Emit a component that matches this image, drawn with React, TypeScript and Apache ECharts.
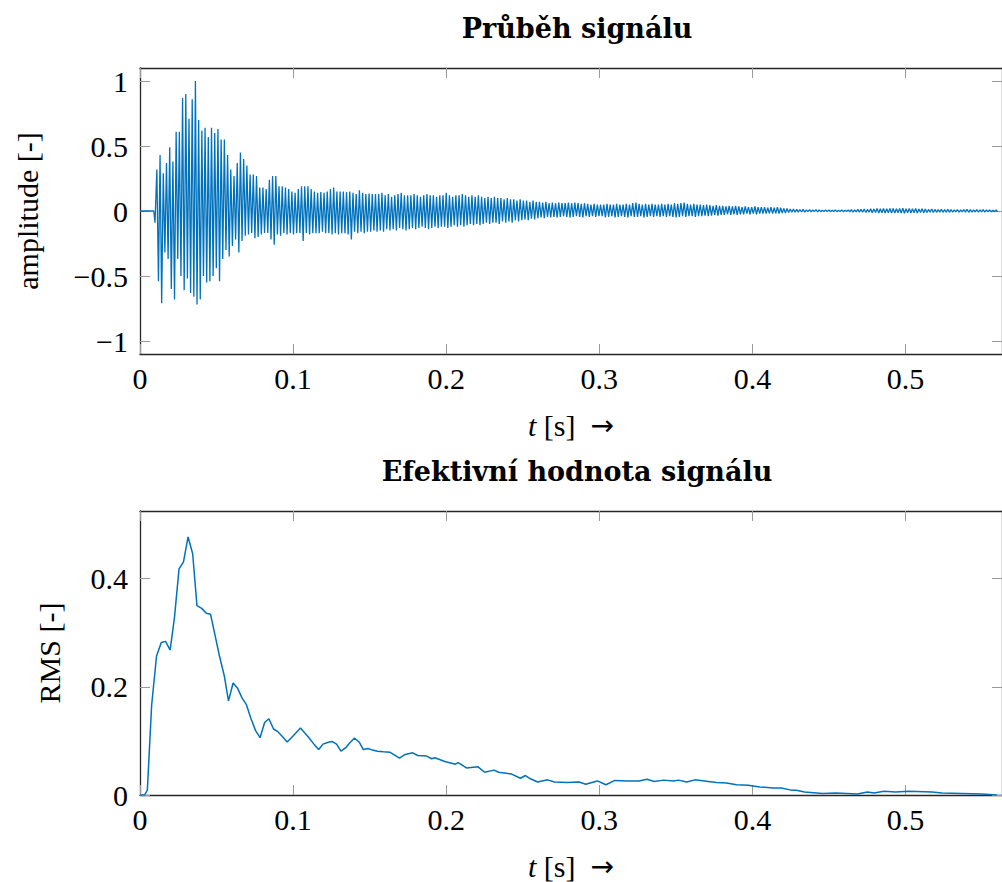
import React, { useEffect, useRef } from "react";
import * as echarts from "echarts";

// ---------- data ----------
const signalTitle = "Průběh signálu";
const rmsTitle = "Efektivní hodnota signálu";

// quiet lead-in before the onset
const leadTimes = [0, 0.009, 0.0098];
const leadValues = [0, 0, -0.09];

// oscillation: one upper and one lower peak per period
const SIGNAL_T0 = 0.011; // s, first upper peak
const SIGNAL_PERIOD = 0.0021; // s

const peakHigh = [
  0.32, 0.43, 0.29, 0.37, 0.49, 0.38, 0.61, 0.61, 0.87, 0.9,
  0.71, 0.86, 1.0, 0.7, 0.62, 0.64, 0.57, 0.64, 0.6, 0.63,
  0.55, 0.55, 0.43, 0.32, 0.27, 0.37, 0.45, 0.4, 0.35, 0.28,
  0.28, 0.27, 0.18, 0.18, 0.17, 0.24, 0.27, 0.27, 0.19, 0.19,
  0.18, 0.17, 0.15, 0.14, 0.17, 0.19, 0.19, 0.19, 0.17, 0.15,
  0.14, 0.145, 0.14, 0.15, 0.17, 0.18, 0.15, 0.15, 0.15, 0.145,
  0.15, 0.14, 0.13, 0.16, 0.14, 0.13, 0.135, 0.13, 0.13,
  0.13, 0.14, 0.12, 0.13, 0.11, 0.12, 0.13, 0.14, 0.12, 0.12,
  0.12, 0.13, 0.12, 0.11, 0.12, 0.13, 0.12, 0.12, 0.11, 0.12,
  0.12, 0.14, 0.12, 0.11, 0.12, 0.12, 0.13, 0.12, 0.11, 0.12,
  0.11, 0.12, 0.11, 0.1, 0.11, 0.1, 0.11, 0.1, 0.1, 0.09,
  0.1, 0.09, 0.09, 0.08, 0.09, 0.08, 0.08, 0.07, 0.08, 0.07,
  0.07, 0.065, 0.07, 0.06, 0.065, 0.06, 0.065, 0.06, 0.06, 0.065,
  0.06, 0.065, 0.06, 0.055, 0.06, 0.055, 0.05, 0.055, 0.05, 0.05,
  0.05, 0.055, 0.05, 0.05, 0.055, 0.05, 0.05, 0.055, 0.05, 0.06,
  0.065, 0.055, 0.05, 0.055, 0.05, 0.055, 0.05, 0.05, 0.055, 0.05,
  0.055, 0.05, 0.06, 0.055, 0.06, 0.065, 0.055, 0.05, 0.055, 0.05,
  0.05, 0.045, 0.05, 0.045, 0.04, 0.045, 0.04, 0.04, 0.035, 0.04,
  0.035, 0.04, 0.035, 0.03, 0.035, 0.03, 0.03, 0.035, 0.03, 0.03,
  0.03, 0.025, 0.03, 0.025, 0.03, 0.025, 0.02, 0.02, 0.015, 0.015,
  0.012, 0.01, 0.012, 0.008, 0.01, 0.008, 0.01, 0.008, 0.006, 0.008,
  0.008, 0.006, 0.008, 0.006, 0.008, 0.006, 0.008, 0.01, 0.008, 0.012,
  0.012, 0.015, 0.012, 0.018, 0.015, 0.02, 0.018, 0.02, 0.018, 0.02,
  0.02, 0.018, 0.02, 0.022, 0.018, 0.02, 0.018, 0.02, 0.015, 0.018,
  0.015, 0.012, 0.015, 0.012, 0.01, 0.012, 0.01, 0.012, 0.01, 0.008,
  0.01, 0.008, 0.01, 0.012, 0.01, 0.008, 0.01, 0.008, 0.01, 0.008,
  0.008, 0.006, 0.008,
];

const peakLow = [
  -0.54, -0.71, -0.32, -0.37, -0.6, -0.68, -0.37, -0.5, -0.61, -0.52,
  -0.63, -0.66, -0.72, -0.68, -0.5, -0.55, -0.54, -0.5, -0.44, -0.54,
  -0.37, -0.3, -0.35, -0.27, -0.22, -0.32, -0.23, -0.19, -0.18, -0.17,
  -0.21, -0.2, -0.18, -0.17, -0.17, -0.22, -0.26, -0.18, -0.19, -0.17,
  -0.18, -0.17, -0.18, -0.17, -0.17, -0.23, -0.17, -0.18, -0.17, -0.17,
  -0.17, -0.16, -0.17, -0.17, -0.18, -0.17, -0.18, -0.17, -0.17, -0.18,
  -0.22, -0.16, -0.17, -0.16, -0.17, -0.16, -0.16, -0.15, -0.16,
  -0.15, -0.16, -0.14, -0.15, -0.14, -0.15, -0.13, -0.14, -0.15, -0.14,
  -0.13, -0.14, -0.13, -0.12, -0.13, -0.14, -0.13, -0.12, -0.13, -0.12,
  -0.12, -0.13, -0.12, -0.11, -0.12, -0.11, -0.12, -0.11, -0.1, -0.11,
  -0.1, -0.11, -0.1, -0.09, -0.1, -0.09, -0.09, -0.1, -0.08, -0.09,
  -0.08, -0.09, -0.07, -0.08, -0.07, -0.065, -0.07, -0.06, -0.065, -0.055,
  -0.05, -0.055, -0.045, -0.05, -0.045, -0.05, -0.045, -0.04, -0.045, -0.05,
  -0.045, -0.04, -0.045, -0.05, -0.04, -0.045, -0.04, -0.045, -0.04, -0.04,
  -0.05, -0.045, -0.04, -0.05, -0.045, -0.04, -0.045, -0.05, -0.04, -0.045,
  -0.045, -0.04, -0.05, -0.045, -0.04, -0.045, -0.04, -0.045, -0.04, -0.045,
  -0.04, -0.045, -0.05, -0.045, -0.04, -0.045, -0.04, -0.04, -0.045, -0.04,
  -0.04, -0.035, -0.04, -0.035, -0.03, -0.035, -0.03, -0.03, -0.025, -0.03,
  -0.025, -0.03, -0.025, -0.025, -0.02, -0.025, -0.02, -0.025, -0.02, -0.02,
  -0.02, -0.018, -0.02, -0.018, -0.02, -0.015, -0.015, -0.012, -0.01, -0.01,
  -0.008, -0.006, -0.008, -0.005, -0.006, -0.005, -0.006, -0.005, -0.004, -0.005,
  -0.005, -0.004, -0.005, -0.004, -0.005, -0.004, -0.006, -0.008, -0.006, -0.008,
  -0.01, -0.012, -0.01, -0.014, -0.012, -0.015, -0.014, -0.016, -0.014, -0.016,
  -0.015, -0.014, -0.016, -0.017, -0.014, -0.015, -0.014, -0.015, -0.012, -0.014,
  -0.012, -0.01, -0.012, -0.01, -0.008, -0.01, -0.008, -0.01, -0.008, -0.006,
  -0.008, -0.006, -0.008, -0.01, -0.008, -0.006, -0.008, -0.006, -0.008, -0.006,
  -0.006, -0.005, -0.006,
];

// RMS curve
const rmsTimes = [
  0, 0.003, 0.0048, 0.0076, 0.0108, 0.0139, 0.0167, 0.0197, 0.0225, 0.0255,
  0.0284, 0.0314, 0.0344, 0.0372, 0.0403, 0.0433, 0.0461, 0.0491, 0.0519, 0.055,
  0.0578, 0.0608, 0.0636, 0.0667, 0.0695, 0.0725, 0.0755, 0.0784, 0.0814, 0.0842,
  0.0872, 0.09, 0.093, 0.0961, 0.0989, 0.1019, 0.1048, 0.1078, 0.1106, 0.1136,
  0.1167, 0.1195, 0.1225, 0.1253, 0.1284, 0.1312, 0.1342, 0.1372, 0.14, 0.1431,
  0.1459, 0.1489, 0.1519, 0.155, 0.159, 0.1634, 0.1695, 0.1732, 0.1781, 0.1814,
  0.1872, 0.1905, 0.1926, 0.1991, 0.206, 0.2078, 0.2132, 0.2208, 0.2251, 0.2312,
  0.2342, 0.2424, 0.2485, 0.2517, 0.2543, 0.2597, 0.2662, 0.2706, 0.2792, 0.2868,
  0.2911, 0.2987, 0.3043, 0.3102, 0.3182, 0.3258, 0.3312, 0.3359, 0.342, 0.3485,
  0.3517, 0.357, 0.3625, 0.3712, 0.3766, 0.3831, 0.3896, 0.3972, 0.4048, 0.4134,
  0.4188, 0.4253, 0.4286, 0.434, 0.4459, 0.4545, 0.4686, 0.4751, 0.4794, 0.4859,
  0.4935, 0.5022, 0.5173, 0.5238, 0.5368, 0.5498, 0.5597,
];
const rmsValues = [
  0, 0, 0.009, 0.166, 0.257, 0.282, 0.284, 0.268, 0.328, 0.418,
  0.431, 0.477, 0.446, 0.35, 0.345, 0.336, 0.334, 0.294, 0.257, 0.221,
  0.174, 0.207, 0.198, 0.179, 0.167, 0.141, 0.119, 0.106, 0.134, 0.141,
  0.122, 0.117, 0.108, 0.098, 0.106, 0.115, 0.124, 0.114, 0.105, 0.094,
  0.084, 0.094, 0.097, 0.099, 0.094, 0.081, 0.087, 0.097, 0.105, 0.098,
  0.084, 0.086, 0.083, 0.081, 0.08, 0.079, 0.068, 0.075, 0.078, 0.073,
  0.072, 0.067, 0.069, 0.062, 0.057, 0.06, 0.05, 0.052, 0.042, 0.046,
  0.042, 0.039, 0.031, 0.036, 0.031, 0.024, 0.028, 0.024, 0.023, 0.024,
  0.02, 0.026, 0.019, 0.027, 0.026, 0.026, 0.029, 0.025, 0.0275, 0.026,
  0.0275, 0.024, 0.028, 0.025, 0.023, 0.022, 0.019, 0.018, 0.015, 0.013,
  0.013, 0.009, 0.0086, 0.0055, 0.003, 0.0037, 0.0018, 0.0055, 0.0037, 0.0068,
  0.0055, 0.0068, 0.0055, 0.0037, 0.003, 0.0018, 0,
];

const xTicks = [0, 0.1, 0.2, 0.3, 0.4, 0.5];
const signalYTicks = [-1, -0.5, 0, 0.5, 1];
const rmsYTicks = [0, 0.2, 0.4];

// ---------- styling ----------
const LINE_COLOR = "#0072BD";
const SERIF = "Liberation Serif";
const TITLE_FONT = "DejaVu Serif";
const FS = 30;

const fmt = (v: number) => {
  const s = String(+v.toFixed(3));
  return v < 0 ? "\u2212" + s.slice(1) : s;
};

function buildSignal(): [number, number][] {
  const out: [number, number][] = [];
  leadTimes.forEach((t, k) => out.push([t, leadValues[k]]));
  for (let i = 0; i < peakHigh.length; i++) {
    out.push([SIGNAL_T0 + i * SIGNAL_PERIOD, peakHigh[i]]);
    out.push([SIGNAL_T0 + (i + 0.5) * SIGNAL_PERIOD, peakLow[i]]);
  }
  return out;
}

export default function App() {
  const ref = useRef<HTMLDivElement>(null);
  useEffect(() => {
    if (!ref.current) return;
    const chart = echarts.init(ref.current, undefined, { renderer: "svg" });
    const PLOT_W = 867;
    const X_MAX = PLOT_W / 1540;
    const axisLine = { show: true, onZero: false, lineStyle: { color: "#262626", width: 1.3 } };
    const tick = (vals?: number[]) => ({
      show: true,
      inside: true,
      length: 10,
      lineStyle: { color: "#9a9a9a", width: 1 },
      ...(vals ? { customValues: vals } : {}),
    });
    const xBottom = (grid: number) => ({
      type: "value",
      gridIndex: grid,
      position: "bottom",
      min: 0,
      max: X_MAX,
      interval: 0.1,
      axisLine,
      axisTick: tick(xTicks),
      splitLine: { show: false },
      axisLabel: {
        customValues: xTicks,
        formatter: fmt,
        fontFamily: SERIF,
        fontSize: FS,
        color: "#000",
        margin: 9,
      },
      name: "{it|t} [s]  {ar|\u2192}",
      nameLocation: "middle",
      nameGap: 56,
      nameTextStyle: {
        fontFamily: SERIF,
        fontSize: FS,
        color: "#000",
        rich: {
          it: { fontStyle: "italic", fontFamily: SERIF, fontSize: FS, color: "#000" },
          ar: { fontFamily: "DejaVu Sans", fontSize: 28, color: "#000" },
        },
      },
    });
    const xTop = (grid: number) => ({
      type: "value",
      gridIndex: grid,
      position: "top",
      min: 0,
      max: X_MAX,
      interval: 0.1,
      axisLine,
      axisTick: tick(xTicks),
      axisLabel: { show: false },
      splitLine: { show: false },
    });
    const yLeft = (grid: number, min: number, max: number, vals: number[], name: string, gap: number) => ({
      type: "value",
      gridIndex: grid,
      position: "left",
      min,
      max,
      axisLine,
      axisTick: tick(vals),
      splitLine: { show: false },
      axisLabel: {
        customValues: vals,
        formatter: fmt,
        fontFamily: SERIF,
        fontSize: FS,
        color: "#000",
        margin: 12,
      },
      name,
      nameLocation: "middle",
      nameGap: gap,
      nameRotate: 90,
      nameTextStyle: { fontFamily: SERIF, fontSize: FS, color: "#000" },
    });
    const yRight = (grid: number, min: number, max: number, vals: number[]) => ({
      type: "value",
      gridIndex: grid,
      position: "right",
      min,
      max,
      axisLine,
      axisTick: tick(vals),
      axisLabel: { show: false },
      splitLine: { show: false },
    });

    chart.setOption({
      animation: false,
      backgroundColor: "#fff",
      title: [
        {
          text: signalTitle,
          left: 572,
          top: 10,
          textAlign: "center",
          textStyle: { fontFamily: TITLE_FONT, fontWeight: "bold", fontSize: 27, color: "#000" },
        },
        {
          text: rmsTitle,
          left: 572,
          top: 453,
          textAlign: "center",
          textStyle: { fontFamily: TITLE_FONT, fontWeight: "bold", fontSize: 27, color: "#000" },
        },
      ],
      grid: [
        { left: 140, top: 68, width: PLOT_W, height: 286 },
        { left: 140, top: 511, width: PLOT_W, height: 286 },
      ],
      xAxis: [xBottom(0), xTop(0), xBottom(1), xTop(1)],
      yAxis: [
        yLeft(0, -1.1, 1.1, signalYTicks, "amplitude [-]", 98),
        yRight(0, -1.1, 1.1, signalYTicks),
        yLeft(1, 0, 0.525, rmsYTicks, "RMS [-]", 76),
        yRight(1, 0, 0.525, rmsYTicks),
      ],
      series: [
        {
          type: "line",
          xAxisIndex: 0,
          yAxisIndex: 0,
          data: buildSignal(),
          showSymbol: false,
          lineStyle: { color: LINE_COLOR, width: 1.3 },
          itemStyle: { color: LINE_COLOR },
          clip: true,
        },
        {
          type: "line",
          xAxisIndex: 2,
          yAxisIndex: 2,
          data: rmsTimes.map((t, k) => [t, rmsValues[k]]),
          showSymbol: false,
          lineStyle: { color: LINE_COLOR, width: 1.5 },
          itemStyle: { color: LINE_COLOR },
          clip: true,
        },
      ],
    });
    return () => chart.dispose();
  }, []);
  return (
    <div
      ref={ref}
      style={{ position: "absolute", left: 0, top: 0, width: 1002, height: 882, background: "#fff" }}
    />
  );
}
